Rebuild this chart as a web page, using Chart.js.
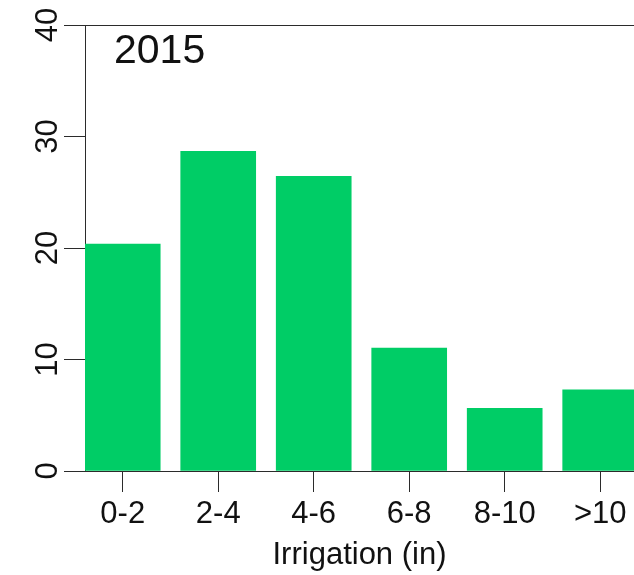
<!DOCTYPE html>
<html>
<head>
<meta charset="utf-8">
<script src="https://cdn.jsdelivr.net/npm/chart.js@4/dist/chart.umd.min.js"></script>
<style>
  html, body { margin: 0; padding: 0; background: #fff; overflow: hidden; }
  canvas { display: block; }
</style>
</head>
<body>
<canvas id="irr-chart" width="634" height="575"></canvas>
<script>
// values
const categories = ['0-2', '2-4', '4-6', '6-8', '8-10', '>10'];
const shares = [20.35, 28.67, 26.42, 11.02, 5.63, 7.27];
const yTicks = [0, 10, 20, 30, 40];
const yearLabel = '2015';

const FONT = 'Liberation Sans, Arial, sans-serif';
const INK = '#111';
const LINE = '#2b2b2b';

const yearPlugin = {
  id: 'yearLabel',
  afterDraw(chart) {
    const ctx = chart.ctx;
    ctx.save();
    ctx.font = '41px ' + FONT;
    ctx.fillStyle = INK;
    ctx.textAlign = 'left';
    ctx.textBaseline = 'alphabetic';
    ctx.fillText(yearLabel, 114, 63);
    ctx.restore();
  }
};

new Chart(document.getElementById('irr-chart'), {
  type: 'bar',
  data: {
    datasets: [{
      data: shares.map((v, i) => ({ x: i, y: v })),
      backgroundColor: '#00CD66',
      borderWidth: 0,
      barThickness: 75
    }]
  },
  options: {
    responsive: false,
    animation: false,
    layout: { padding: { top: 25, right: 0, left: 0, bottom: 0 } },
    plugins: { legend: { display: false }, tooltip: { enabled: false } },
    scales: {
      x: {
        type: 'linear',
        offset: false,
        min: -0.395,
        max: 5.354,
        afterBuildTicks: s => { s.ticks = categories.map((c, i) => ({ value: i })); },
        afterFit: s => { s.height = 104; },
        ticks: {
          callback: v => categories[v],
          font: { family: FONT, size: 31 },
          color: INK,
          padding: 4,
          maxRotation: 0,
          autoSkip: false
        },
        grid: { offset: false, drawOnChartArea: false, tickLength: 21, tickColor: LINE, tickWidth: 1 },
        border: { display: true, color: LINE, width: 1 },
        title: {
          display: true,
          text: 'Irrigation (in)',
          font: { family: FONT, size: 31 },
          color: INK,
          padding: { top: 0, bottom: 1 }
        }
      },
      y: {
        min: 0,
        max: 40,
        afterBuildTicks: s => { s.ticks = yTicks.map(v => ({ value: v })); },
        afterFit: s => { s.width = 85; },
        ticks: {
          font: { family: FONT, size: 31 },
          color: INK,
          minRotation: 90,
          maxRotation: 90,
          crossAlign: 'center',
          padding: -2
        },
        grid: {
          drawOnChartArea: true,
          color: c => (c.tick && c.tick.value === 40 ? LINE : 'rgba(0,0,0,0)'),
          tickColor: LINE,
          tickLength: 21,
          lineWidth: 1
        },
        border: { display: true, color: LINE, width: 1 }
      }
    }
  },
  plugins: [yearPlugin]
});
</script>
</body>
</html>
